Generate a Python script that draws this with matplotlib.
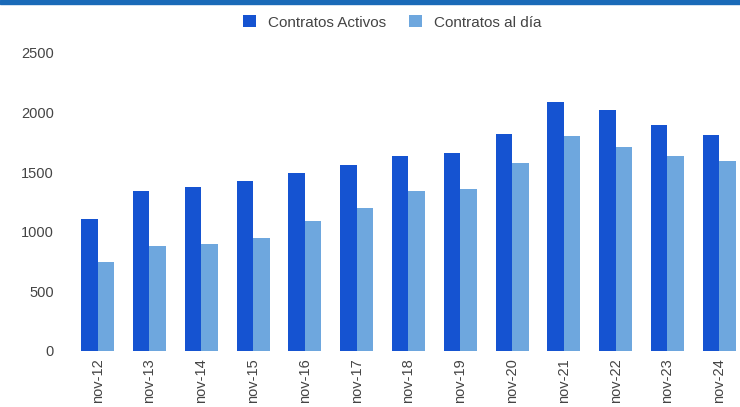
import matplotlib.pyplot as plt
import numpy as np
from matplotlib.patches import Rectangle

plt.rcParams['font.family'] = ['Liberation Sans', 'DejaVu Sans']

periodos = ["nov-12", "nov-13", "nov-14", "nov-15", "nov-16", "nov-17", "nov-18",
            "nov-19", "nov-20", "nov-21", "nov-22", "nov-23", "nov-24"]
activos = [1110, 1340, 1375, 1430, 1490, 1560, 1640, 1660, 1820, 2090, 2020, 1900, 1810]
al_dia = [750, 880, 895, 950, 1090, 1200, 1340, 1360, 1580, 1800, 1710, 1640, 1590]

c_activos = "#1553d1"
c_al_dia = "#6ea7de"

fig = plt.figure(figsize=(7.4, 4.07), dpi=100)
ax = fig.add_axes([0.097, 0.1376, 0.903, 0.7322])

x = np.arange(len(periodos))
w = 0.32
ax.bar(x - w / 2, activos, w, color=c_activos, label="Contratos Activos")
ax.bar(x + w / 2, al_dia, w, color=c_al_dia, label="Contratos al día")

ax.set_xlim(-0.5, 12.4)
ax.set_ylim(0, 2500)
ax.set_yticks([0, 500, 1000, 1500, 2000, 2500])
ax.set_xticks(x)
ax.set_xticklabels(periodos, rotation=90, va="top")
ax.tick_params(axis="y", length=0, pad=13, labelsize=10.5, labelcolor="#444444")
ax.tick_params(axis="x", length=0, pad=5, labelsize=10.5, labelcolor="#444444")
for s in ax.spines.values():
    s.set_visible(False)

# franja azul superior
fig.patches.append(Rectangle((0, 0.99), 1, 0.01, transform=fig.transFigure,
                             color="#1a6ab8", zorder=5))

fig.legend(loc="center", bbox_to_anchor=(0.53, 0.945), ncol=2, frameon=False,
           fontsize=11, handlelength=0.85, handleheight=0.85, columnspacing=1.5,
           handletextpad=0.8, labelcolor="#444444")

fig.savefig("out.png", dpi=100)
